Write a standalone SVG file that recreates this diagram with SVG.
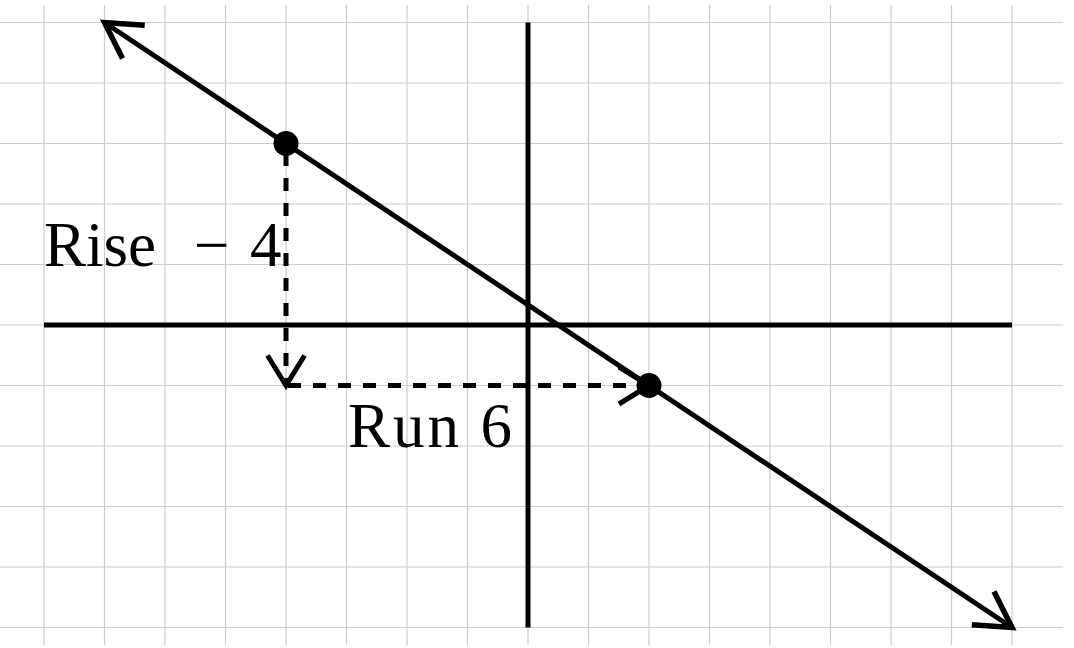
<svg xmlns="http://www.w3.org/2000/svg" width="1074" height="648" viewBox="0 0 1074 648">
  <style>
    .grid line { stroke: #cccccc; stroke-width: 1.2; }
    .axis { stroke: #000; stroke-width: 5; fill: none; }
    .main { stroke: #000; stroke-width: 5; fill: none; }
    .dash { stroke: #000; stroke-width: 5; fill: none; stroke-dasharray: 13 12; }
    .lbl { font-family: "Liberation Serif", "DejaVu Serif", serif; font-size: 63px; fill: #000; }
    .dot { fill: #000; }
  </style>
  <defs>
    <marker id="bigArrow" markerUnits="userSpaceOnUse" viewBox="-40 -25 46 50" refX="0" refY="0" markerWidth="46" markerHeight="50" orient="auto-start-reverse">
      <path d="M -35 -20 L 0 0 L -35 20" fill="none" stroke="#000" stroke-width="5.5" stroke-dasharray="none"/>
    </marker>
    <marker id="smallArrow" markerUnits="userSpaceOnUse" viewBox="-36 -24 42 48" refX="0" refY="0" markerWidth="42" markerHeight="48" orient="auto">
      <path d="M -30 -18.5 L 0 0 L -30 18.5" fill="none" stroke="#000" stroke-width="5" stroke-dasharray="none"/>
    </marker>
  </defs>
  <rect x="0" y="0" width="1074" height="648" fill="#fff"/>
  <g id="grid" class="grid">
    <line x1="0" y1="22.5" x2="1063" y2="22.5"/>
    <line x1="0" y1="83" x2="1063" y2="83"/>
    <line x1="0" y1="143.5" x2="1063" y2="143.5"/>
    <line x1="0" y1="204" x2="1063" y2="204"/>
    <line x1="0" y1="264.5" x2="1063" y2="264.5"/>
    <line x1="0" y1="325" x2="1063" y2="325"/>
    <line x1="0" y1="385.5" x2="1063" y2="385.5"/>
    <line x1="0" y1="446" x2="1063" y2="446"/>
    <line x1="0" y1="506.5" x2="1063" y2="506.5"/>
    <line x1="0" y1="567" x2="1063" y2="567"/>
    <line x1="0" y1="627.5" x2="1063" y2="627.5"/>
    <line x1="44" y1="5" x2="44" y2="645"/>
    <line x1="104.5" y1="5" x2="104.5" y2="645"/>
    <line x1="165" y1="5" x2="165" y2="645"/>
    <line x1="225.5" y1="5" x2="225.5" y2="645"/>
    <line x1="286" y1="5" x2="286" y2="645"/>
    <line x1="346.5" y1="5" x2="346.5" y2="645"/>
    <line x1="407" y1="5" x2="407" y2="645"/>
    <line x1="467.5" y1="5" x2="467.5" y2="645"/>
    <line x1="528" y1="5" x2="528" y2="645"/>
    <line x1="588.5" y1="5" x2="588.5" y2="645"/>
    <line x1="649" y1="5" x2="649" y2="645"/>
    <line x1="709.5" y1="5" x2="709.5" y2="645"/>
    <line x1="770" y1="5" x2="770" y2="645"/>
    <line x1="830.5" y1="5" x2="830.5" y2="645"/>
    <line x1="891" y1="5" x2="891" y2="645"/>
    <line x1="951.5" y1="5" x2="951.5" y2="645"/>
    <line x1="1012" y1="5" x2="1012" y2="645"/>
  </g>
  <g id="axes">
    <line class="axis" x1="44" y1="325" x2="1012" y2="325"/>
    <line class="axis" x1="528" y1="22.5" x2="528" y2="627.5"/>
  </g>
  <g id="connectors">
    <line class="main" x1="104.5" y1="22.5" x2="1012" y2="627.5" marker-start="url(#bigArrow)" marker-end="url(#bigArrow)"/>
    <line class="dash" x1="286" y1="153" x2="286" y2="385.5" marker-end="url(#smallArrow)"/>
    <line class="dash" x1="288" y1="385.5" x2="649" y2="385.5" marker-end="url(#smallArrow)"/>
  </g>
  <g id="point-a">
    <circle class="dot" cx="286" cy="143.5" r="12.5"/>
  </g>
  <g id="point-b">
    <circle class="dot" cx="649" cy="385.5" r="12.5"/>
  </g>
  <g id="label-rise">
    <text class="lbl" y="266"><tspan x="44">Rise</tspan><tspan x="194">−</tspan><tspan x="250">4</tspan></text>
  </g>
  <g id="label-run">
    <text class="lbl" x="348" y="447" textLength="164" lengthAdjust="spacing">Run 6</text>
  </g>
</svg>
